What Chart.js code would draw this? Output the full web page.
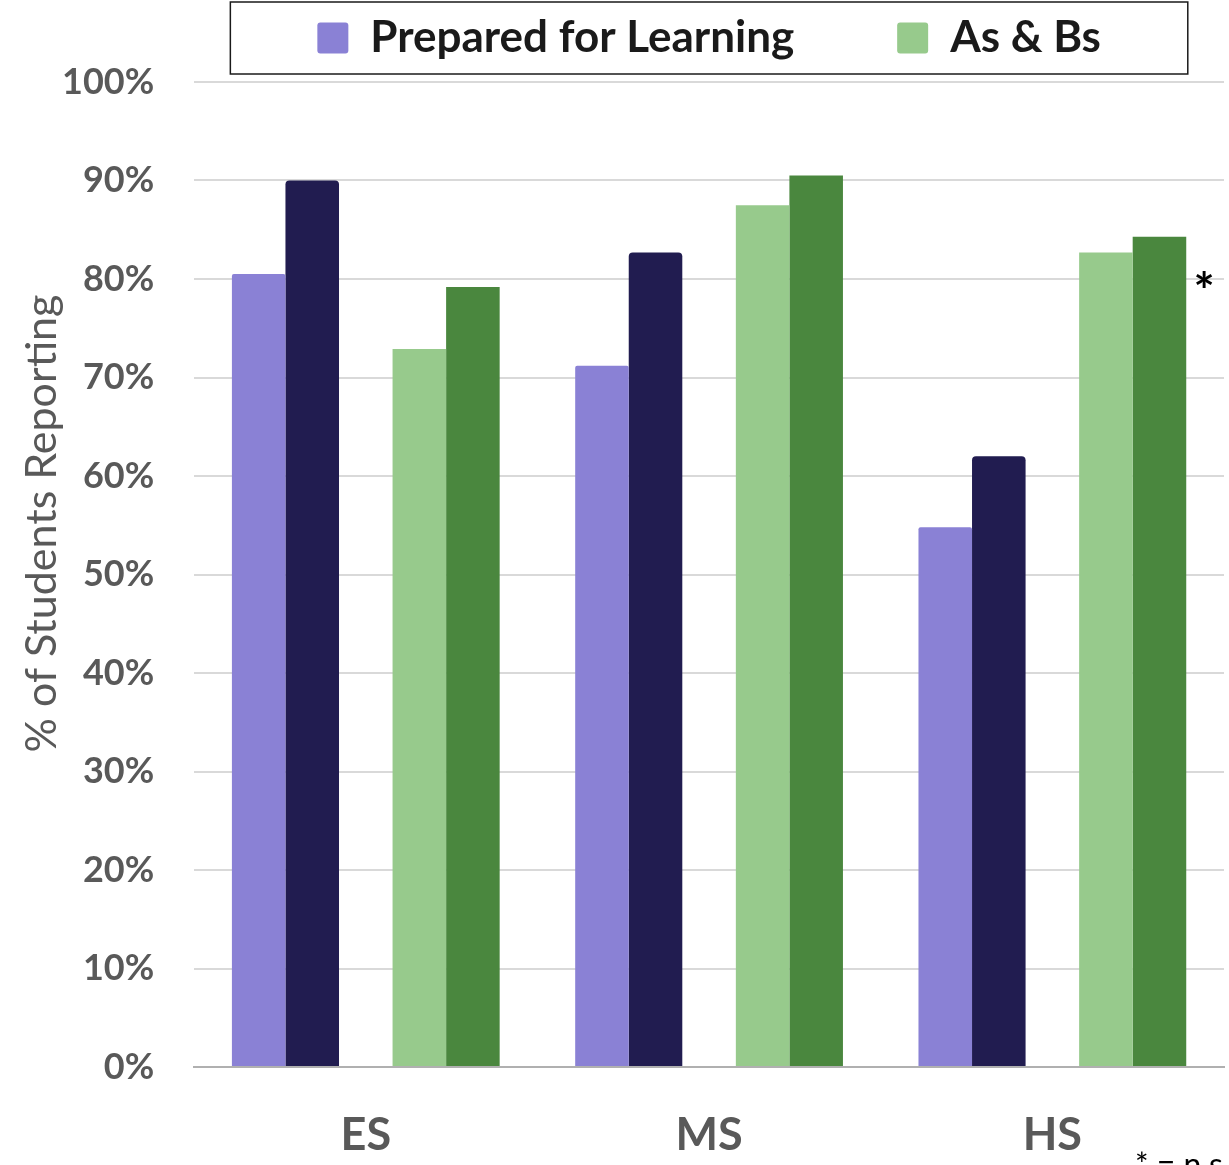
<!DOCTYPE html>
<html><head><meta charset="utf-8">
<style>html,body{margin:0;padding:0;background:#fff;} #wrap{width:1229px;height:1165px;position:relative;overflow:hidden}</style>
<script src="https://cdn.jsdelivr.net/npm/chart.js@4/dist/chart.umd.min.js"></script>
</head><body><div id="wrap"><canvas id="c" width="1229" height="1165"></canvas></div>
<script>
const categories = ['ES', 'MS', 'HS'];
const preparedLow  = [80.5, 71.2, 54.8];
const preparedHigh = [90.0, 82.7, 62.0];
const gradesLow    = [72.9, 87.5, 82.7];
const gradesHigh   = [79.2, 90.5, 84.3];
const notSignificant = [false, false, true];
const legendNames = ['Prepared for Learning', 'As & Bs'];
const yAxisTitle = '% of Students Reporting';
const footnote = '* = n.s.';

const GREY = '#595959';
const FONT = 'Lato, "Open Sans", sans-serif';

const legendBoxPlugin = {
  id: 'legendBox',
  afterLayout(chart) {
    const lg = chart.legend;
    if (lg) { lg.top -= 12; lg.bottom -= 12; }
  },
  afterDraw(chart) {
    const lg = chart.legend;
    if (!lg || !lg.legendHitBoxes || !lg.legendHitBoxes.length) return;
    const hb = lg.legendHitBoxes;
    let minX = Infinity, maxX = -Infinity;
    hb.forEach(h => { minX = Math.min(minX, h.left); maxX = Math.max(maxX, h.left + h.width); });
    const ctx = chart.ctx;
    ctx.save();
    ctx.strokeStyle = '#1a1a1a';
    ctx.lineWidth = 1.5;
    ctx.strokeRect(minX - 87, 2, (maxX + 87) - (minX - 87), 72);
    ctx.restore();
  }
};

const extrasPlugin = {
  id: 'extras',
  afterDraw(chart) {
    const ctx = chart.ctx;
    const area = chart.chartArea;
    ctx.save();
    ctx.translate(42, (area.top + area.bottom) / 2 - 51);
    ctx.rotate(-Math.PI / 2);
    ctx.font = '43px ' + FONT;
    ctx.fillStyle = GREY;
    ctx.textAlign = 'center';
    ctx.textBaseline = 'middle';
    ctx.fillText(yAxisTitle, 0, 0);
    ctx.restore();

    const meta = chart.getDatasetMeta(4);
    const ys = chart.scales.y;
    ctx.save();
    ctx.font = 'bold 50px ' + FONT;
    ctx.fillStyle = '#000';
    ctx.textAlign = 'center';
    ctx.textBaseline = 'middle';
    notSignificant.forEach((ns, i) => {
      if (!ns) return;
      const bar = meta.data[i];
      ctx.fillText('*', bar.x + bar.width / 2 + 18, ys.getPixelForValue(80) + 14);
    });
    ctx.font = '32px ' + FONT;
    ctx.textAlign = 'left';
    ctx.textBaseline = 'top';
    ctx.fillText(footnote, 1135, 1150);
    ctx.restore();
  }
};

new Chart(document.getElementById('c'), {
  type: 'bar',
  data: {
    labels: categories,
    datasets: [
      { label: legendNames[0], data: preparedLow, backgroundColor: '#8A81D5', borderRadius: 2 },
      { label: legendNames[0] + ' (2)', data: preparedHigh, backgroundColor: '#211C50', borderRadius: 4, borderSkipped: 'bottom' },
      { label: '', data: [null, null, null], backgroundColor: 'rgba(0,0,0,0)' },
      { label: legendNames[1], data: gradesLow, backgroundColor: '#97CA8C' },
      { label: legendNames[1] + ' (2)', data: gradesHigh, backgroundColor: '#4A873E' }
    ]
  },
  options: {
    responsive: false,
    animation: false,
    devicePixelRatio: 1,
    layout: { padding: { top: 0, left: 22, right: 5, bottom: -38 } },
    datasets: { bar: { categoryPercentage: 0.78, barPercentage: 1.0 } },
    plugins: {
      tooltip: { enabled: false },
      legend: {
        position: 'top',
        fullSize: false,
        align: 'center',
        labels: {
          font: { family: FONT, size: 44, weight: 'bold' },
          color: '#1a1a1a',
          boxWidth: 31,
          boxHeight: 31,
          padding: 28,
          useBorderRadius: true,
          borderRadius: 3,
          generateLabels(chart) {
            const items = Chart.defaults.plugins.legend.labels.generateLabels(chart)
              .filter(it => it.datasetIndex === 0 || it.datasetIndex === 3);
            items.forEach(it => { it.lineWidth = 0; it.strokeStyle = 'rgba(0,0,0,0)'; });
            items[0].text = items[0].text + '\u00A0'.repeat(7);
            return items;
          }
        }
      }
    },
    scales: {
      x: {
        grid: { display: false, drawTicks: false },
        border: { display: true, color: '#B0B0B0', width: 2 },
        ticks: { font: { family: FONT, size: 45, weight: 'bold' }, color: GREY, padding: 41 }
      },
      y: {
        min: 0, max: 100,
        grid: { color: '#D9D9D9', lineWidth: 2, drawTicks: false },
        border: { display: false },
        ticks: {
          stepSize: 10,
          font: { family: FONT, size: 36, weight: 'bold' },
          color: GREY,
          padding: 40,
          callback: v => v + '%'
        }
      }
    }
  },
  plugins: [legendBoxPlugin, extrasPlugin]
});
</script>
</body></html>
